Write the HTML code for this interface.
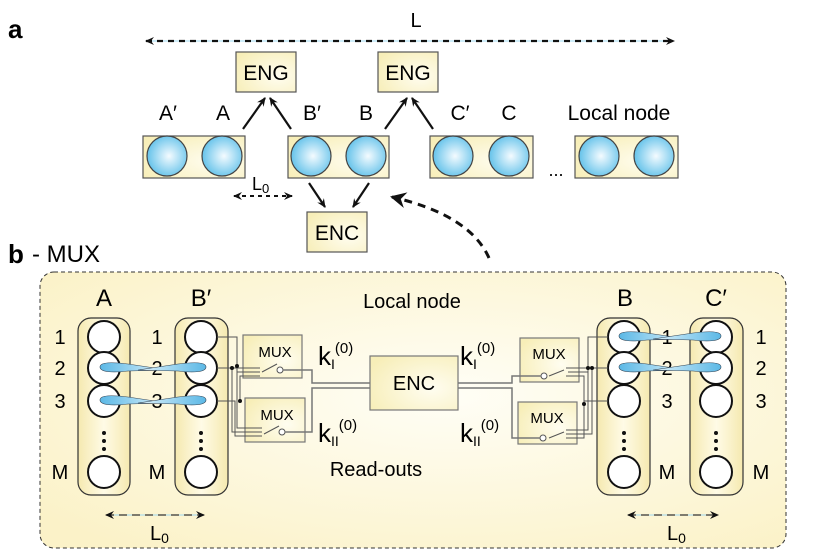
<!DOCTYPE html>
<html><head><meta charset="utf-8"><style>
html,body{margin:0;padding:0;background:#fff;}
svg{display:block;font-family:"Liberation Sans",sans-serif;}
</style></head><body>
<svg width="831" height="558" viewBox="0 0 831 558" xmlns="http://www.w3.org/2000/svg">
<defs>
<radialGradient id="ball" cx="0.55" cy="0.5" r="0.6"><stop offset="0" stop-color="#f4fbff"/><stop offset="1" stop-color="#57bde8"/></radialGradient>
<radialGradient id="box" cx="0.7" cy="0.6" r="0.8"><stop offset="0" stop-color="#fffdf0"/><stop offset="1" stop-color="#f7eeb8"/></radialGradient>
<radialGradient id="bg" cx="0.55" cy="0.45" r="0.7"><stop offset="0" stop-color="#fffef6"/><stop offset="1" stop-color="#fbf2c8"/></radialGradient>
<linearGradient id="col" x1="0" y1="0" x2="1" y2="0"><stop offset="0" stop-color="#f5e9b0"/><stop offset="0.5" stop-color="#fffbe6"/><stop offset="1" stop-color="#f5e9b0"/></linearGradient>
<linearGradient id="tear" x1="0" y1="0" x2="1" y2="0"><stop offset="0" stop-color="#5bb8e6"/><stop offset="1" stop-color="#dff2fb"/></linearGradient>
<linearGradient id="tear2" x1="1" y1="0" x2="0" y2="0"><stop offset="0" stop-color="#5bb8e6"/><stop offset="1" stop-color="#dff2fb"/></linearGradient>
<marker id="ah" markerWidth="10" markerHeight="10" refX="8" refY="5" orient="auto" markerUnits="userSpaceOnUse"><path d="M0,1 L9,5 L0,9 L3,5z" fill="#111"/></marker>
<marker id="ahs" markerWidth="10" markerHeight="10" refX="8" refY="5" orient="auto-start-reverse" markerUnits="userSpaceOnUse"><path d="M0,1 L9,5 L0,9 L3,5z" fill="#111"/></marker>
<marker id="ahb" markerWidth="18" markerHeight="18" refX="14" refY="9" orient="auto" markerUnits="userSpaceOnUse"><path d="M0,1 L16,9 L0,17 L5,9z" fill="#111"/></marker>
</defs>

<!-- PANEL A -->
<text x="8" y="38" font-size="26" font-weight="bold">a</text>
<text x="416" y="27" font-size="20" text-anchor="middle">L</text>
<line x1="146" y1="41" x2="674" y2="41" stroke="#9fd8f0" stroke-width="1"/>
<line x1="146" y1="41" x2="674" y2="41" stroke="#111" stroke-width="2.2" stroke-dasharray="6,5" marker-start="url(#ahs)" marker-end="url(#ah)"/>

<g stroke="#555" stroke-width="1.2" fill="url(#box)">
<rect x="236" y="52" width="60" height="40"/>
<rect x="378" y="52" width="60" height="40"/>
<rect x="143" y="136" width="102" height="42"/>
<rect x="288" y="136" width="101" height="42"/>
<rect x="430" y="136" width="103" height="42"/>
<rect x="575" y="136" width="103" height="42"/>
<rect x="307" y="212" width="60" height="40"/>
</g>
<g font-size="21" text-anchor="middle">
<text x="266" y="80">ENG</text><text x="408" y="80">ENG</text><text x="337" y="240">ENC</text>
<text x="168" y="120">A′</text><text x="223" y="120">A</text>
<text x="312" y="120">B′</text><text x="366" y="120">B</text>
<text x="460" y="120">C′</text><text x="509" y="120">C</text>
<text x="619" y="120">Local node</text>
<text x="556" y="176" font-size="18">...</text>
</g>
<g fill="url(#ball)" stroke="#444" stroke-width="1.2">
<circle cx="167" cy="156" r="20"/><circle cx="222" cy="156" r="20"/>
<circle cx="311" cy="156" r="20"/><circle cx="366" cy="156" r="20"/>
<circle cx="453" cy="156" r="20"/><circle cx="509" cy="156" r="20"/>
<circle cx="599" cy="156" r="20"/><circle cx="654" cy="156" r="20"/>
</g>
<g stroke="#111" stroke-width="2.2" marker-end="url(#ah)">
<line x1="243" y1="129" x2="265" y2="98"/><line x1="291" y1="129" x2="270" y2="98"/>
<line x1="385" y1="129" x2="407" y2="98"/><line x1="433" y1="129" x2="412" y2="98"/>
<line x1="309" y1="183" x2="325" y2="207"/><line x1="369" y1="183" x2="353" y2="207"/>
</g>
<line x1="234" y1="196" x2="292" y2="196" stroke="#111" stroke-width="2" stroke-dasharray="4,4" marker-start="url(#ahs)" marker-end="url(#ah)"/>
<text x="252" y="190" font-size="18">L<tspan font-size="13" dy="3">0</tspan></text>
<path d="M489,258 Q470,215 392,197" fill="none" stroke="#111" stroke-width="3" stroke-dasharray="8,6" marker-end="url(#ahb)"/>

<!-- PANEL B -->
<text x="8" y="263" font-size="26" font-weight="bold">b</text>
<text x="32" y="262" font-size="24">- MUX</text>
<rect x="40" y="272" width="746" height="276" rx="14" fill="url(#bg)" stroke="#333" stroke-width="1" stroke-dasharray="4,3"/>
<text x="412" y="308" font-size="20" text-anchor="middle">Local node</text>
<text x="376" y="476" font-size="20" text-anchor="middle">Read-outs</text>

<g font-size="24" text-anchor="middle">
<text x="104" y="306">A</text><text x="201" y="306">B′</text>
<text x="625" y="306">B</text><text x="716" y="306">C′</text>
</g>

<g fill="url(#col)" stroke="#333" stroke-width="1.2">
<rect x="78" y="318" width="52" height="177" rx="13"/>
<rect x="175" y="318" width="53" height="177" rx="13"/>
<rect x="597" y="318" width="53" height="177" rx="13"/>
<rect x="690" y="318" width="53" height="177" rx="13"/>
</g>
<g fill="#fff" stroke="#111" stroke-width="2">
<circle cx="104" cy="337" r="16"/><circle cx="104" cy="368" r="16"/><circle cx="104" cy="401" r="16"/><circle cx="104" cy="472" r="16"/>
<circle cx="201" cy="337" r="16"/><circle cx="201" cy="368" r="16"/><circle cx="201" cy="401" r="16"/><circle cx="201" cy="472" r="16"/>
<circle cx="624" cy="337" r="16"/><circle cx="624" cy="368" r="16"/><circle cx="624" cy="401" r="16"/><circle cx="624" cy="472" r="16"/>
<circle cx="716" cy="337" r="16"/><circle cx="716" cy="368" r="16"/><circle cx="716" cy="401" r="16"/><circle cx="716" cy="472" r="16"/>
</g>
<g fill="#111">
<circle cx="104" cy="433" r="2"/><circle cx="104" cy="441" r="2"/><circle cx="104" cy="449" r="2"/>
<circle cx="201" cy="433" r="2"/><circle cx="201" cy="441" r="2"/><circle cx="201" cy="449" r="2"/>
<circle cx="624" cy="433" r="2"/><circle cx="624" cy="441" r="2"/><circle cx="624" cy="449" r="2"/>
<circle cx="716" cy="433" r="2"/><circle cx="716" cy="441" r="2"/><circle cx="716" cy="449" r="2"/>
</g>
<g font-size="20" text-anchor="middle">
<text x="60" y="344">1</text><text x="60" y="375">2</text><text x="60" y="408">3</text><text x="60" y="479">M</text>
<text x="157" y="344">1</text><text x="157" y="375">2</text><text x="157" y="408">3</text><text x="157" y="479">M</text>
<text x="667" y="344">1</text><text x="667" y="375">2</text><text x="667" y="408">3</text><text x="667" y="479">M</text>
<text x="761" y="344">1</text><text x="761" y="375">2</text><text x="761" y="408">3</text><text x="761" y="479">M</text>
</g>
<!-- teardrops (crossing) -->
<g stroke="#345" stroke-width="0.6">
<path fill="url(#tear)" d="M100,367 C100,362 112,362 128,364 L168,370 L128,371 C112,373 100,372 100,367z"/>
<path fill="url(#tear2)" d="M206,367 C206,362 194,362 178,364 L138,370 L178,371 C194,373 206,372 206,367z"/>
<path fill="url(#tear)" d="M100,400 C100,395 112,395 128,397 L168,403 L128,404 C112,406 100,405 100,400z"/>
<path fill="url(#tear2)" d="M206,400 C206,395 194,395 178,397 L138,403 L178,404 C194,406 206,405 206,400z"/>
<path fill="url(#tear)" d="M619,336 C619,331 631,331 647,333 L687,339 L647,340 C631,342 619,341 619,336z"/>
<path fill="url(#tear2)" d="M721,336 C721,331 709,331 693,333 L653,339 L693,340 C709,342 721,341 721,336z"/>
<path fill="url(#tear)" d="M619,367 C619,362 631,362 647,364 L687,370 L647,371 C631,373 619,372 619,367z"/>
<path fill="url(#tear2)" d="M721,367 C721,362 709,362 693,364 L653,370 L693,371 C709,373 721,372 721,367z"/>
</g>

<!-- MUX boxes & ENC -->
<g stroke="#777" stroke-width="1.2" fill="url(#box)">
<rect x="243" y="335" width="59" height="43"/>
<rect x="245" y="398" width="60" height="44"/>
<rect x="520" y="338" width="59" height="44"/>
<rect x="518" y="402" width="59" height="42"/>
<rect x="370" y="356" width="88" height="54"/>
</g>
<g font-size="15" text-anchor="middle">
<text x="275" y="357">MUX</text><text x="277" y="420">MUX</text>
<text x="549" y="359">MUX</text><text x="547" y="423">MUX</text>
</g>
<text x="414" y="390" font-size="20" text-anchor="middle">ENC</text>
<g font-size="26"><text x="318" y="365">k<tspan font-size="14" dy="4">I</tspan><tspan font-size="15" dy="-16">(0)</tspan></text>
<text x="318" y="442">k<tspan font-size="14" dy="4">II</tspan><tspan font-size="15" dy="-16">(0)</tspan></text>
<text x="460" y="365">k<tspan font-size="14" dy="4">I</tspan><tspan font-size="15" dy="-16">(0)</tspan></text>
<text x="460" y="442">k<tspan font-size="14" dy="4">II</tspan><tspan font-size="15" dy="-16">(0)</tspan></text></g>

<!-- wiring left -->
<g fill="none" stroke="#555" stroke-width="1">
<polyline points="217,337 237,337 237,372 260,372"/>
<polyline points="217,368 260,368"/>
<polyline points="217,401 235,401 235,436 262,436"/>
<polyline points="232,368 232,432 262,432"/>
<polyline points="237,372 237,428 262,428"/>
<polyline points="240,401 240,376 260,376"/>
<line x1="262" y1="372" x2="277" y2="364"/><circle cx="280" cy="370" r="3" fill="#fff"/>
<line x1="264" y1="434" x2="279" y2="426"/><circle cx="282" cy="432" r="3" fill="#fff"/>
<polyline points="283,370 312,370 312,383 370,383" stroke="#777" stroke-width="1.5"/>
<polyline points="285,432 312,432 312,388 370,388" stroke="#777" stroke-width="1.5"/>
<!-- right -->
<polyline points="608,337 588,337 588,372 568,372"/>
<polyline points="608,368 566,368"/>
<polyline points="608,401 584,401 584,438 566,438"/>
<polyline points="592,368 592,434 566,434"/>
<polyline points="588,372 588,430 566,430"/>
<polyline points="584,401 584,376 566,376"/>
<line x1="564" y1="370" x2="549" y2="376"/><circle cx="544" cy="376" r="3" fill="#fff"/>
<line x1="564" y1="432" x2="549" y2="438"/><circle cx="543" cy="438" r="3" fill="#fff"/>
<polyline points="541,376 512,376 512,383 458,383" stroke="#777" stroke-width="1.5"/>
<polyline points="540,438 512,438 512,388 458,388" stroke="#777" stroke-width="1.5"/>
</g>
<g fill="#111"><circle cx="232" cy="368" r="2"/><circle cx="237" cy="366" r="2"/><circle cx="240" cy="401" r="2"/>
<circle cx="588" cy="368" r="2"/><circle cx="592" cy="368" r="2"/><circle cx="584" cy="404" r="2"/></g>

<!-- L0 arrows -->
<line x1="106" y1="515" x2="204" y2="515" stroke="#9fd8f0" stroke-width="1"/>
<line x1="106" y1="515" x2="204" y2="515" stroke="#333" stroke-width="1.3" stroke-dasharray="8,5" marker-start="url(#ahs)" marker-end="url(#ah)"/>
<text x="150" y="540" font-size="20">L<tspan font-size="14" dy="3">0</tspan></text>
<line x1="628" y1="515" x2="718" y2="515" stroke="#9fd8f0" stroke-width="1"/>
<line x1="628" y1="515" x2="718" y2="515" stroke="#333" stroke-width="1.3" stroke-dasharray="8,5" marker-start="url(#ahs)" marker-end="url(#ah)"/>
<text x="667" y="540" font-size="20">L<tspan font-size="14" dy="3">0</tspan></text>
</svg>
</body></html>
